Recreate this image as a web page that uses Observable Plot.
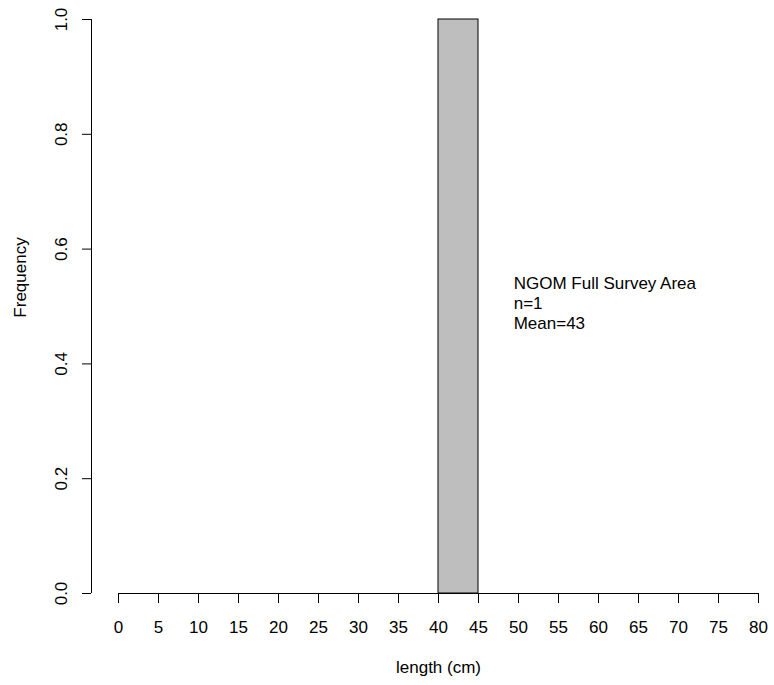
<!DOCTYPE html>
<html>
<head>
<meta charset="utf-8">
<script src="https://cdn.jsdelivr.net/npm/d3@7"></script>
<script src="https://cdn.jsdelivr.net/npm/@observablehq/plot@0.6"></script>
<style>
  html, body { margin: 0; padding: 0; background: #fff; }
  svg { display: block; }
</style>
</head>
<body>
<div id="chart"></div>
<script>
// Histogram bins (length, cm) and counts
const binStarts = [0, 5, 10, 15, 20, 25, 30, 35, 40, 45, 50, 55, 60, 65, 70, 75];
const binWidth = 5;
const counts = [0, 0, 0, 0, 0, 0, 0, 0, 1, 0, 0, 0, 0, 0, 0, 0];
const xTicks = [0, 5, 10, 15, 20, 25, 30, 35, 40, 45, 50, 55, 60, 65, 70, 75, 80];
const yTicks = [0, 0.2, 0.4, 0.6, 0.8, 1.0];
const annotationLines = ["NGOM Full Survey Area", "n=1", "Mean=43"];
const xLabel = "length (cm)";
const yLabel = "Frequency";

const bins = binStarts.map((s, i) => ({x1: s, x2: s + binWidth, count: counts[i]}));
const font = "'Liberation Sans', Arial, Helvetica, sans-serif";
const fs = 17;

const chart = Plot.plot({
  width: 774,
  height: 685,
  marginLeft: 118,
  marginRight: 16,
  marginTop: 19,
  marginBottom: 92,
  style: {fontFamily: font, fontSize: fs + "px", color: "#000", background: "#fff"},
  x: {domain: [0, 80]},
  y: {domain: [0, 1]},
  marks: [
    Plot.rectY(bins, {x1: "x1", x2: "x2", y: "count", fill: "#bebebe", stroke: "#000", strokeWidth: 1}),
    // x axis line
    Plot.ruleY([0], {x1: 0, x2: 80, stroke: "#000", strokeWidth: 1}),
    Plot.axisX({ticks: xTicks, tickSize: 10, tickPadding: 17, fontSize: fs, label: null, stroke: "#000"}),
    // y axis line (offset left like R)
    Plot.ruleX([0], {y1: 0, y2: 1, dx: -27, stroke: "#000", strokeWidth: 1}),
    Plot.axisY({ticks: yTicks, tickSize: 9, dx: -27, tickPadding: 21, tickRotate: -90,
      textAnchor: "middle", lineAnchor: "middle", fontSize: fs,
      tickFormat: d => d.toFixed(1), label: null, stroke: "#000"}),
    Plot.text([xLabel], {frameAnchor: "bottom", dy: 74, text: d => d, fontSize: fs, lineAnchor: "middle"}),
    Plot.text([yLabel], {x: 0, y: 0.5505, dx: -98, rotate: -90, text: d => d, fontSize: fs, lineAnchor: "middle"}),
    Plot.text([annotationLines.join("\n")], {x: 49.4, y: 0.506, text: d => d, textAnchor: "start",
      lineAnchor: "middle", lineHeight: 20 / fs, fontSize: fs})
  ]
});
document.getElementById("chart").appendChild(chart);
</script>
</body>
</html>
